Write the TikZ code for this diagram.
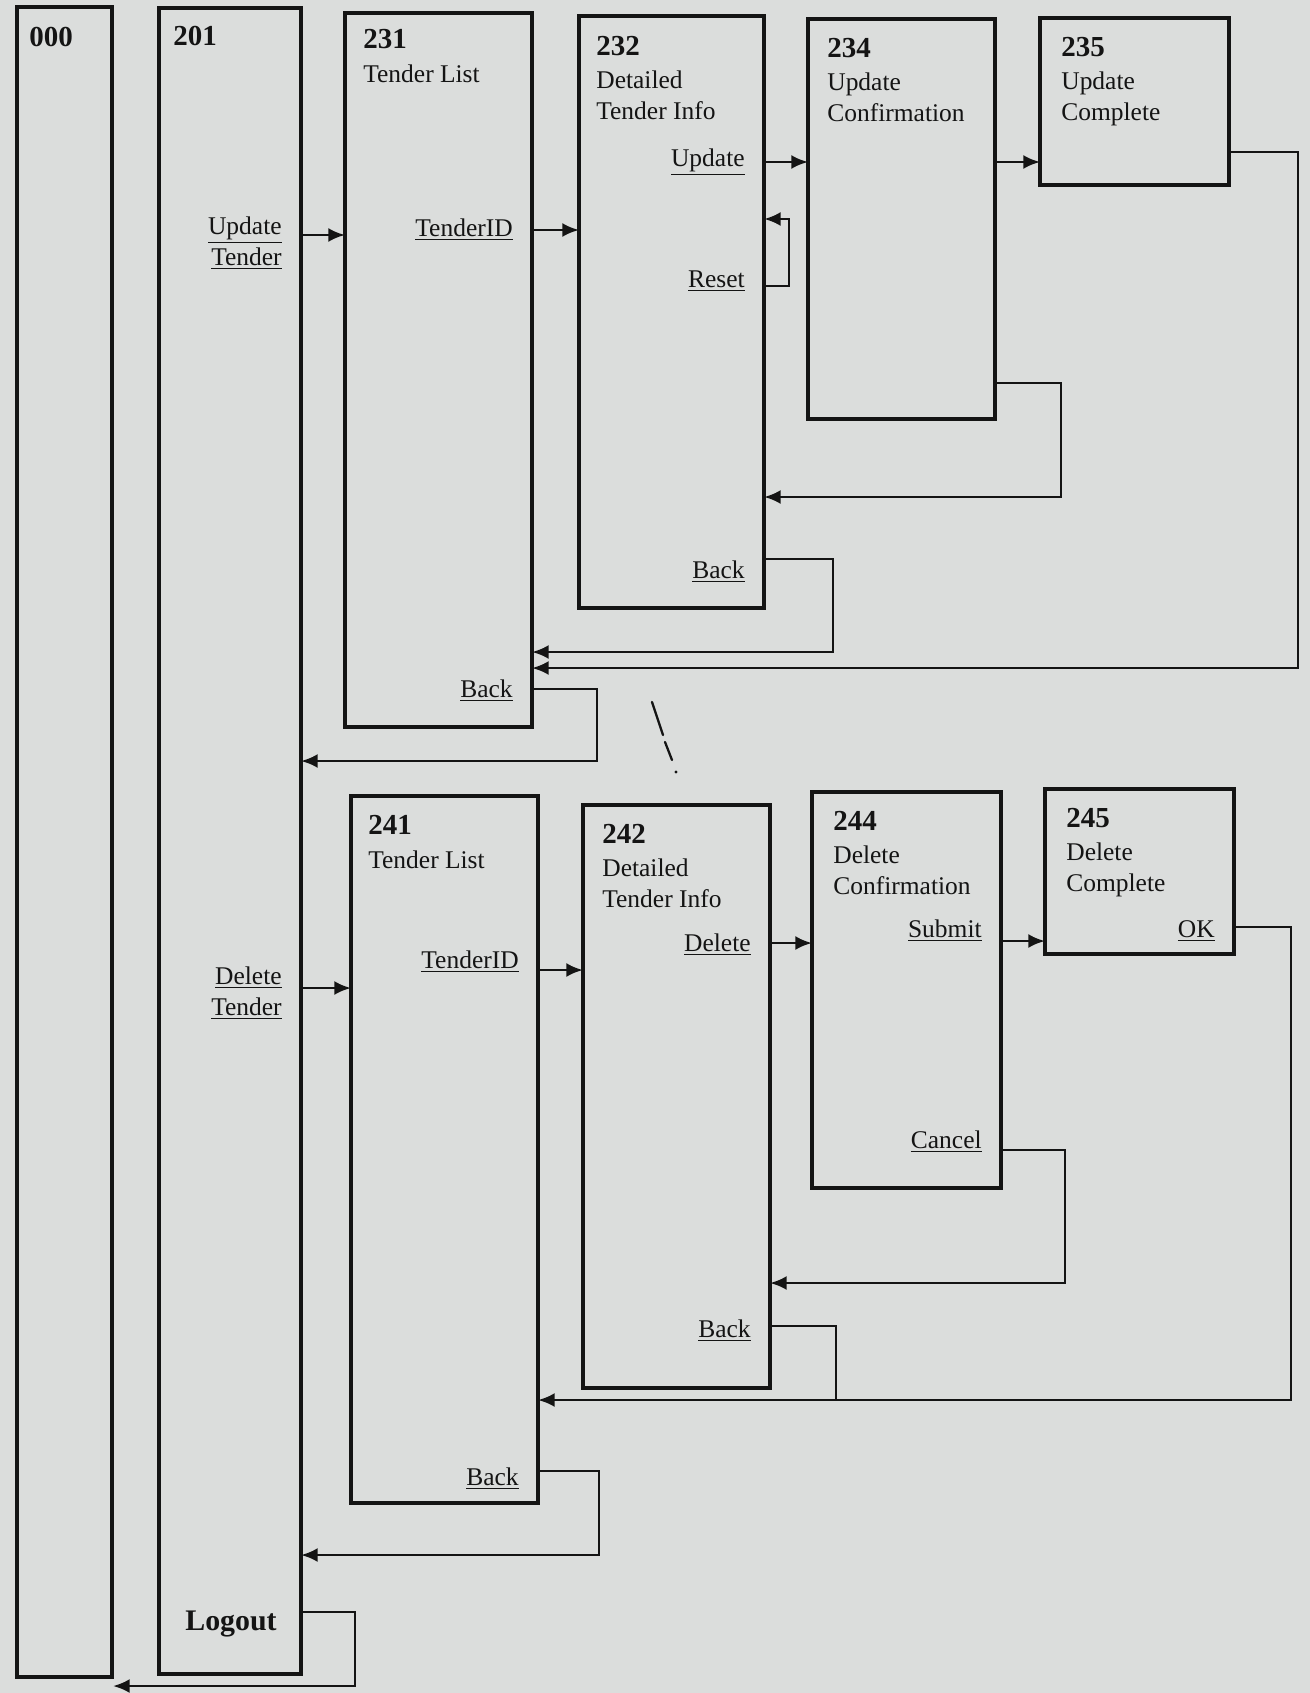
\documentclass[tikz,border=0pt]{standalone}
\usepackage{fontspec}
\setmainfont{Liberation Serif}
\usetikzlibrary{fit,calc,arrows.meta}
\definecolor{bgc}{RGB}{219,221,220}
\definecolor{ink}{RGB}{20,20,20}
\newcommand{\nbr}[1]{{\fontsize{16.5}{17.6}\selectfont\bfseries #1}}
\begin{document}
\begin{tikzpicture}[x=0.02cm,y=-0.02cm,
 scr/.style={draw=ink, line width=1.8pt, inner sep=0pt, outer sep=0pt},
 ttl/.style={anchor=north west, inner sep=0pt, align=left, font=\fontsize{14.5}{17.6}\selectfont, text=ink},
 lnk/.style={anchor=east, inner sep=0pt, align=right, font=\fontsize{14.5}{17.6}\selectfont, text=ink},
 con/.style={draw=ink, line width=1.6pt},
 arr/.style={con, -{Latex[length=9.5pt,width=8pt]}},
]
\fill[bgc] (0,0) rectangle (1310,1693);
\useasboundingbox (0,0) rectangle (1310,1693);

% boxes
\node[scr, fit={(17,7) (112,1677)}] (b000) {};
\node[scr, fit={(159,8) (301,1674)}] (b201) {};
\node[scr, fit={(345,13) (532,727)}] (b231) {};
\node[scr, fit={(579,16) (764,608)}] (b232) {};
\node[scr, fit={(808,19) (995,419)}] (b234) {};
\node[scr, fit={(1040,18) (1229,185)}] (b235) {};
\node[scr, fit={(351,796) (538,1503)}] (b241) {};
\node[scr, fit={(583,805) (770,1388)}] (b242) {};
\node[scr, fit={(812,792) (1001,1188)}] (b244) {};
\node[scr, fit={(1045,789) (1234,954)}] (b245) {};

% titles
\node[ttl] (t000) at ($(b000.north west)+(12,20)$) {\nbr{000}};
\node[ttl] (t201) at ($(b201.north west)+(14,18)$) {\nbr{201}};
\node[ttl] (t231) at ($(b231.north west)+(18,16)$) {\nbr{231}\\[2pt]Tender List};
\node[ttl] (t232) at ($(b232.north west)+(17,20)$) {\nbr{232}\\[1pt]Detailed\\Tender Info};
\node[ttl] (t234) at ($(b234.north west)+(19,19)$) {\nbr{234}\\[1pt]Update\\Confirmation};
\node[ttl] (t235) at ($(b235.north west)+(21,19)$) {\nbr{235}\\[1pt]Update\\Complete};
\node[ttl] (t241) at ($(b241.north west)+(17,19)$) {\nbr{241}\\[2pt]Tender List};
\node[ttl] (t242) at ($(b242.north west)+(19,19)$) {\nbr{242}\\[1pt]Detailed\\Tender Info};
\node[ttl] (t244) at ($(b244.north west)+(21,19)$) {\nbr{244}\\[1pt]Delete\\Confirmation};
\node[ttl] (t245) at ($(b245.north west)+(21,19)$) {\nbr{245}\\[1pt]Delete\\Complete};

% link labels
\path (b201.east |- 0,243) ++(-19,0) node[lnk] (l201u) {\underline{Update}\\\underline{Tender}};
\path (b201.east |- 0,993) ++(-19,0) node[lnk] (l201d) {\underline{Delete}\\\underline{Tender}};
\node[inner sep=0pt, text=ink, font=\fontsize{17}{20}\selectfont\bfseries] (l201o) at (231,1624) {Logout};
\path (b231.east |- 0,230) ++(-19,0) node[lnk] (l231id) {\underline{TenderID}};
\path (b231.east |- 0,691) ++(-19,0) node[lnk] (l231bk) {\underline{Back}};
\path (b232.east |- 0,162) ++(-19,0) node[lnk] (l232up) {\underline{Update}};
\path (b232.east |- 0,281) ++(-19,0) node[lnk] (l232rs) {\underline{Reset}};
\path (b232.east |- 0,572) ++(-19,0) node[lnk] (l232bk) {\underline{Back}};
\path (b241.east |- 0,962) ++(-19,0) node[lnk] (l241id) {\underline{TenderID}};
\path (b241.east |- 0,1479) ++(-19,0) node[lnk] (l241bk) {\underline{Back}};
\path (b242.east |- 0,945) ++(-19,0) node[lnk] (l242dl) {\underline{Delete}};
\path (b242.east |- 0,1331) ++(-19,0) node[lnk] (l242bk) {\underline{Back}};
\path (b244.east |- 0,931) ++(-19,0) node[lnk] (l244sb) {\underline{Submit}};
\path (b244.east |- 0,1142) ++(-19,0) node[lnk] (l244cn) {\underline{Cancel}};
\path (b245.east |- 0,931) ++(-19,0) node[lnk] (l245ok) {\underline{OK}};

% upper connectors
\coordinate (ya) at (0,235);
\draw[arr] (b201.east |- ya) -- (b231.west |- ya);
\coordinate (yb) at (0,230);
\draw[arr] (b231.east |- yb) -- (b232.west |- yb);
\coordinate (yc) at (0,162);
\draw[arr] (b232.east |- yc) -- (b234.west |- yc);
\draw[arr] (b234.east |- yc) -- (b235.west |- yc);
\coordinate (rs1) at (789,286); \coordinate (rs2) at (789,219);
\draw[arr] (b232.east |- rs1) -- (rs1) -- (rs2) -- (b232.east |- rs2);
\coordinate (bk1) at (833,559); \coordinate (bk2) at (833,652);
\draw[arr] (b232.east |- bk1) -- (bk1) -- (bk2) -- (b231.east |- bk2);
\coordinate (cf1) at (1061,383); \coordinate (cf2) at (1061,497);
\draw[arr] (b234.east |- cf1) -- (cf1) -- (cf2) -- (b232.east |- cf2);
\coordinate (uc1) at (1298,152); \coordinate (uc2) at (1298,668);
\draw[arr] (b235.east |- uc1) -- (uc1) -- (uc2) -- (b231.east |- uc2);
\coordinate (tb1) at (597,689); \coordinate (tb2) at (597,761);
\draw[arr] (b231.east |- tb1) -- (tb1) -- (tb2) -- (b201.east |- tb2);

% lower connectors
\coordinate (yd) at (0,988);
\draw[arr] (b201.east |- yd) -- (b241.west |- yd);
\coordinate (ye) at (0,970);
\draw[arr] (b241.east |- ye) -- (b242.west |- ye);
\coordinate (yf) at (0,943);
\draw[arr] (b242.east |- yf) -- (b244.west |- yf);
\coordinate (yg) at (0,941);
\draw[arr] (b244.east |- yg) -- (b245.west |- yg);
\coordinate (cn1) at (1065,1150); \coordinate (cn2) at (1065,1283);
\draw[arr] (b244.east |- cn1) -- (cn1) -- (cn2) -- (b242.east |- cn2);
\coordinate (ok1) at (1291,927); \coordinate (ok2) at (1291,1400);
\draw[arr] (b245.east |- ok1) -- (ok1) -- (ok2) -- (b241.east |- ok2);
\coordinate (db1) at (836,1326); \coordinate (db2) at (836,1400);
\draw[con] (b242.east |- db1) -- (db1) -- (db2);
\coordinate (lb1) at (599,1471); \coordinate (lb2) at (599,1555);
\draw[arr] (b241.east |- lb1) -- (lb1) -- (lb2) -- (b201.east |- lb2);
\coordinate (lo1) at (355,1612); \coordinate (lo2) at (355,1686); \coordinate (lo3) at (113,1686);
\draw[arr] (b201.east |- lo1) -- (lo1) -- (lo2) -- (lo3);

% stray pen mark
\draw[ink, line width=1.3pt, line cap=round] (652,702) -- (663,735);
\draw[ink, line width=1.3pt, line cap=round] (665,742) -- (672,760);
\fill[ink] (676,772) circle (1.6);
\end{tikzpicture}
\end{document}
